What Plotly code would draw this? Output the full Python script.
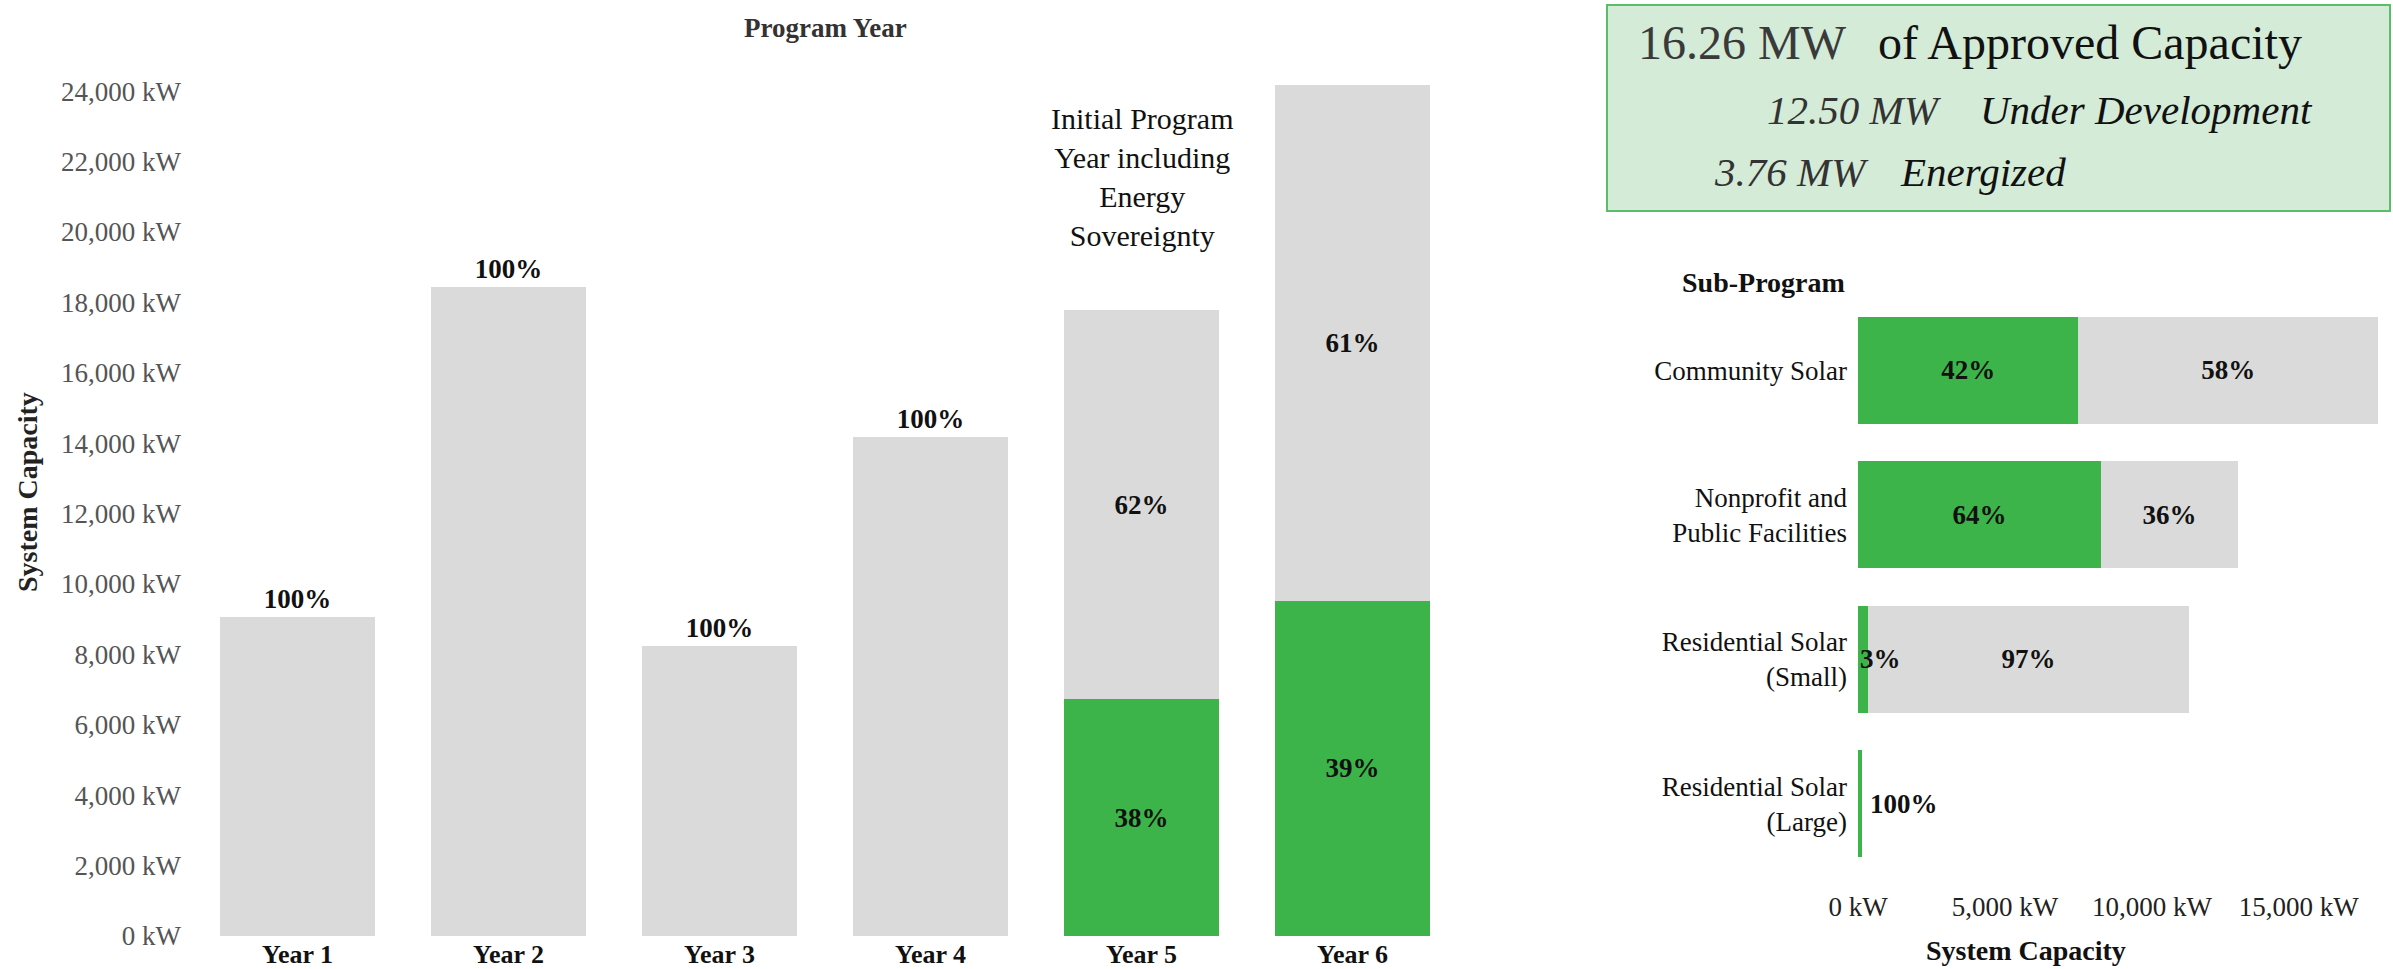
import plotly.graph_objects as go

# ---- Program-year chart data (kW) ----
years = ["Year 1", "Year 2", "Year 3", "Year 4", "Year 5", "Year 6"]
year_energized = [0, 0, 0, 0, 6730, 9520]
year_pending = [9060, 18440, 8240, 14180, 11050, 14660]

# ---- Sub-program chart data (kW) ----
subprograms = ["Community Solar", "Nonprofit and<br>Public Facilities",
               "Residential Solar<br>(Small)", "Residential Solar<br>(Large)"]
sub_energized = [7500, 8270, 340, 120]
sub_pending = [10200, 4650, 10920, 0]

# ---- Headline capacity figures (MW) ----
approved_mw = 16.26
development_mw = 12.50
energized_mw = 3.76

y_ticks = list(range(0, 24001, 2000))
x_ticks = [0, 5000, 10000, 15000]

GREEN = "#3db449"
GRAY = "#dadada"
FONT = "Liberation Serif"
W, H = 2393, 969
MIN_INSIDE_KW = 1500  # segments narrower than this get their label placed beside them


def px_x(p):
    return p / W


def px_y(p):
    return 1 - p / H


def pct(part, whole):
    return f"{round(100 * part / whole)}%" if whole else ""


year_tot = [a + b for a, b in zip(year_energized, year_pending)]
sub_tot = [a + b for a, b in zip(sub_energized, sub_pending)]

label_font = dict(family=FONT, size=27, color="#111111", weight="bold")

fig = go.Figure()

# Program-year stacked columns
fig.add_trace(go.Bar(
    x=years, y=year_energized, marker=dict(color=GREEN, line=dict(width=0)),
    text=[pct(e, t) if e else "" for e, t in zip(year_energized, year_tot)],
    textposition="inside", insidetextanchor="middle", constraintext="none",
    textfont=label_font, xaxis="x", yaxis="y", hoverinfo="skip", showlegend=False,
))
fig.add_trace(go.Bar(
    x=years, y=year_pending, marker=dict(color=GRAY, line=dict(width=0)),
    text=[pct(p, t) for p, t in zip(year_pending, year_tot)],
    textposition=["outside" if e == 0 else "inside" for e in year_energized],
    insidetextanchor="middle", constraintext="none", cliponaxis=False,
    textfont=label_font, xaxis="x", yaxis="y", hoverinfo="skip", showlegend=False,
))

# Sub-program stacked horizontal bars
fig.add_trace(go.Bar(
    y=subprograms, x=sub_energized, orientation="h",
    marker=dict(color=GREEN, line=dict(width=0)),
    text=[pct(e, t) if e >= MIN_INSIDE_KW else "" for e, t in zip(sub_energized, sub_tot)],
    textposition="inside", insidetextanchor="middle", constraintext="none",
    textfont=label_font, xaxis="x2", yaxis="y2", hoverinfo="skip", showlegend=False,
))
fig.add_trace(go.Bar(
    y=subprograms, x=sub_pending, orientation="h",
    marker=dict(color=GRAY, line=dict(width=0)),
    text=[pct(p, t) if p >= MIN_INSIDE_KW else "" for p, t in zip(sub_pending, sub_tot)],
    textposition="inside", insidetextanchor="middle", constraintext="none",
    textfont=label_font, xaxis="x2", yaxis="y2", hoverinfo="skip", showlegend=False,
))

annotations = []

# Labels for slivers too thin to hold their text
for name, e, t in zip(subprograms, sub_energized, sub_tot):
    if 0 < e < MIN_INSIDE_KW:
        whole = e == t
        annotations.append(dict(
            x=e if whole else 0, y=name, xref="x2", yref="y2",
            text=pct(e, t), showarrow=False,
            xanchor="left", yanchor="middle", xshift=6 if whole else 0,
            font=label_font,
        ))


def note(x, y, text, size, color="#111111", **kw):
    return dict(x=px_x(x), y=px_y(y), xref="paper", yref="paper", text=text,
                showarrow=False, yanchor="middle",
                font=dict(family=FONT, size=size, color=color), **kw)


# Titles and notes
annotations += [
    note(825, 28, "<b>Program Year</b>", 27, "#333333"),
    note(27, 492, "<b>System Capacity</b>", 28, "#222222", textangle=-90,
         xanchor="center"),
    dict(x="Year 5", y=21550, xref="x", yref="y",
         text="Initial Program<br>Year including<br>Energy<br>Sovereignty",
         showarrow=False, align="center", yanchor="middle",
         font=dict(family=FONT, size=30, color="#111111")),
    note(1847, 282, "<b>Sub-Program</b>", 28, xanchor="right"),
    note(2128, 950, "<b>System Capacity</b>", 28),
    # Headline capacity box
    note(1636, 42, f"{approved_mw:.2f} MW", 48, "#3a3a3a", xanchor="left"),
    note(1876, 42, "of Approved Capacity", 48, xanchor="left"),
    note(1765, 110, f"<i>{development_mw:.2f} MW</i>", 41, "#333333", xanchor="left"),
    note(1978, 110, "<i>Under Development</i>", 41, xanchor="left"),
    note(1712, 172, f"<i>{energized_mw:.2f} MW</i>", 41, "#333333", xanchor="left"),
    note(1898, 172, "<i>Energized</i>", 41, xanchor="left"),
]

shapes = [dict(
    type="rect", xref="paper", yref="paper",
    x0=px_x(1607), x1=px_x(2390), y0=px_y(211), y1=px_y(5),
    fillcolor="#d3ebd7", line=dict(color="#5cbd69", width=2), layer="below",
)]

axis_common = dict(showgrid=False, zeroline=False, showline=False, ticks="",
                   automargin=False)

fig.update_layout(
    width=W, height=H,
    margin=dict(l=0, r=0, t=0, b=0, autoexpand=False),
    paper_bgcolor="white", plot_bgcolor="white",
    barmode="stack", bargap=0.265,
    font=dict(family=FONT, color="#111111"),
    annotations=annotations, shapes=shapes,
    xaxis=dict(
        domain=[px_x(192), px_x(1458)], anchor="y",
        tickfont=dict(family=FONT, size=26, color="#111111", weight="bold"),
        ticklabelstandoff=0, **axis_common,
    ),
    yaxis=dict(
        domain=[px_y(936), px_y(56)], anchor="x",
        range=[0, 25000], tickvals=y_ticks,
        ticktext=[f"{v:,} kW" for v in y_ticks],
        tickfont=dict(family=FONT, size=27, color="#555555"),
        ticklabelstandoff=10, **axis_common,
    ),
    xaxis2=dict(
        domain=[px_x(1858), px_x(2387)], anchor="y2",
        range=[0, 18000], tickvals=x_ticks,
        ticktext=[f"{v:,} kW" for v in x_ticks],
        tickfont=dict(family=FONT, size=27, color="#222222"),
        ticklabelstandoff=12, **axis_common,
    ),
    yaxis2=dict(
        domain=[px_y(876), px_y(298)], anchor="x2",
        categoryorder="array", categoryarray=subprograms, autorange="reversed",
        tickfont=dict(family=FONT, size=27, color="#111111"),
        ticklabelstandoff=10, **axis_common,
    ),
)
fig.update_traces(selector=dict(xaxis="x2"), width=0.74)

fig.write_html("out.html")
